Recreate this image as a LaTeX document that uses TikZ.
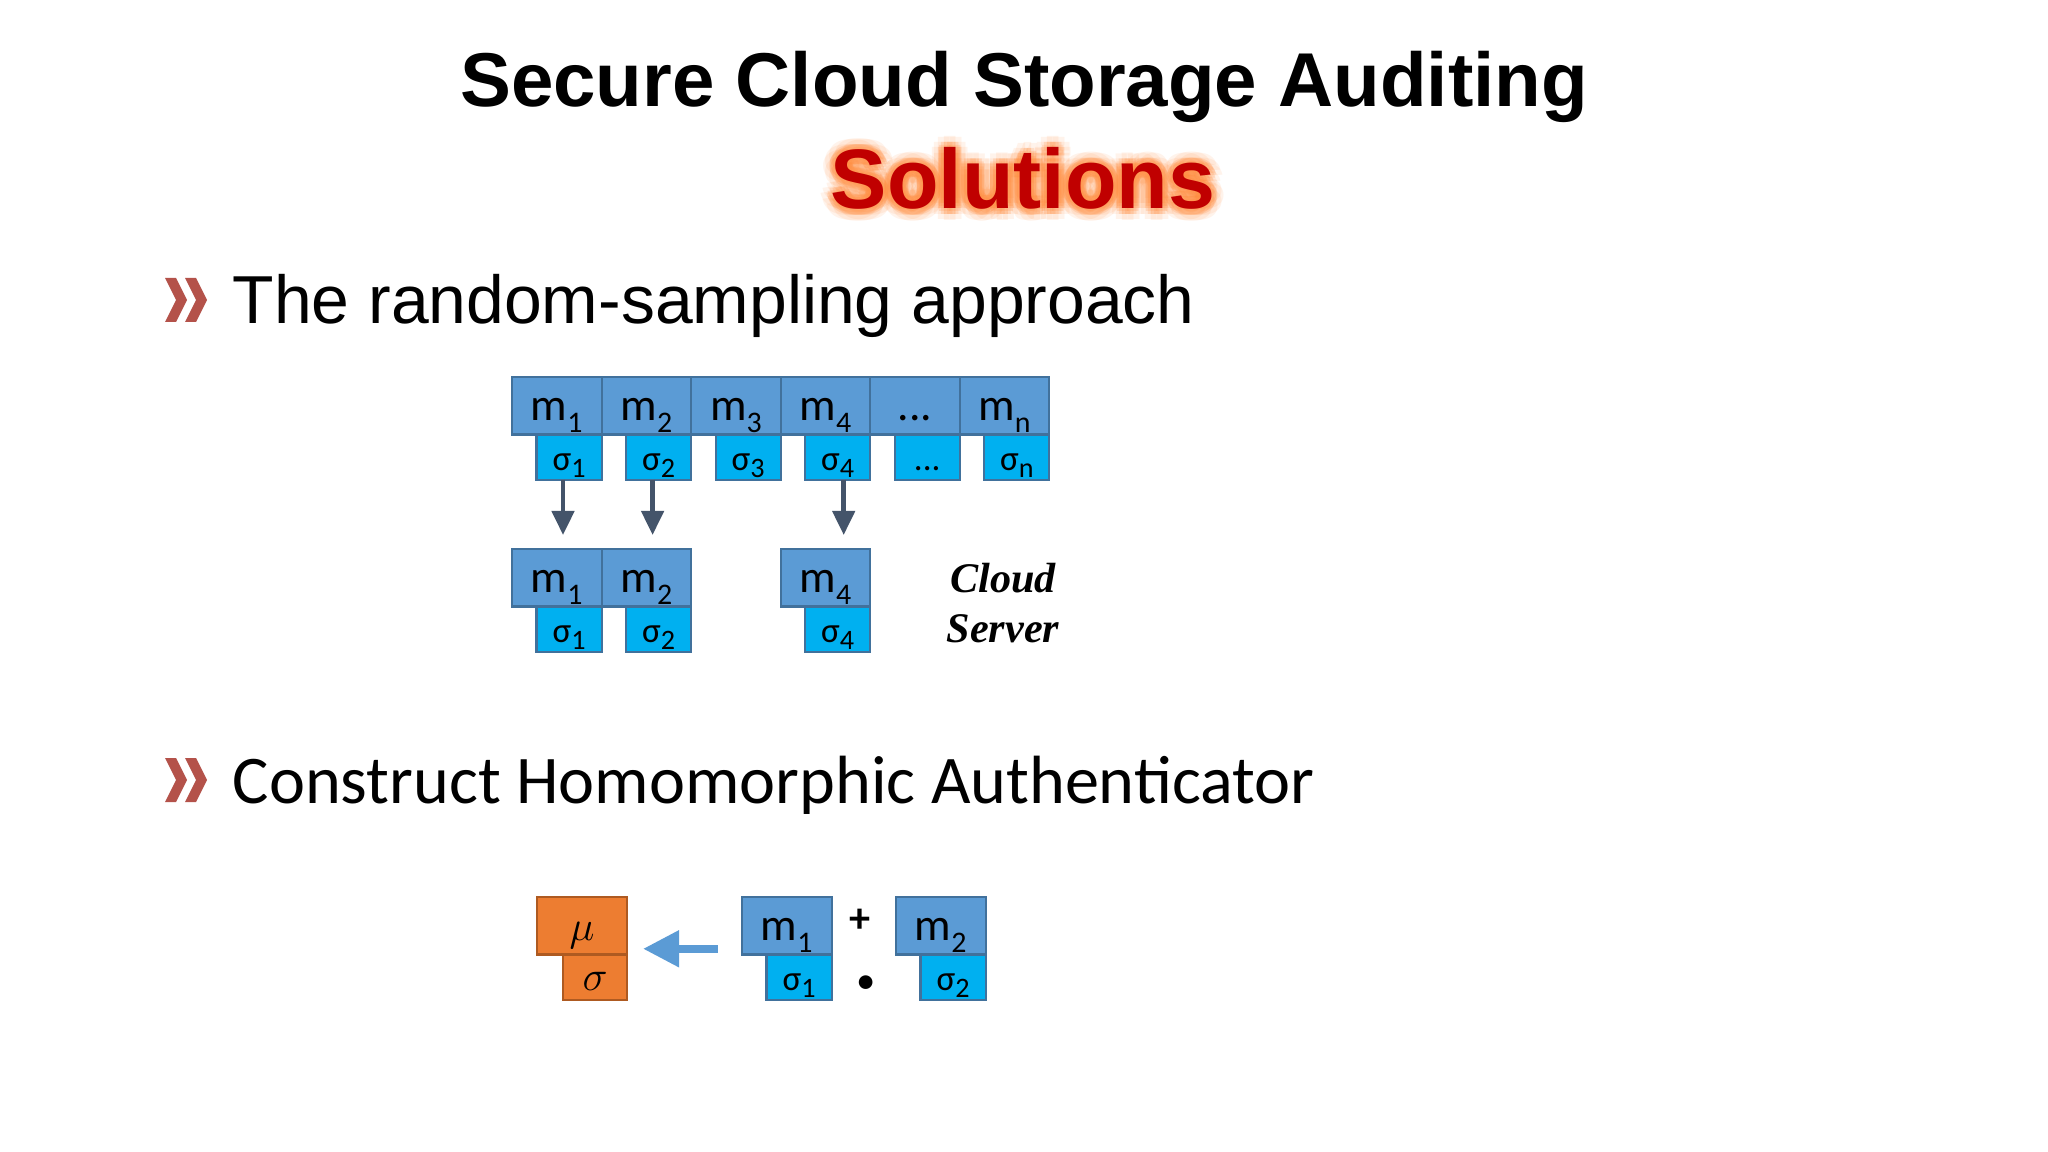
\documentclass[tikz,border=0pt]{standalone}
\usepackage{fontspec}
\setmainfont{Carlito}
\newfontfamily\headfont{Liberation Sans}
\newfontfamily\serverfont{Liberation Serif}
\usepackage{xcolor}
\definecolor{blockblue}{RGB}{91,155,213}
\definecolor{tagblue}{RGB}{0,176,240}
\definecolor{edgeblue}{RGB}{65,113,156}
\definecolor{aggorange}{RGB}{237,125,49}
\definecolor{edgeorange}{RGB}{174,90,33}
\definecolor{slate}{RGB}{68,84,106}
\definecolor{crimson}{RGB}{192,0,0}
\definecolor{glow}{RGB}{255,140,60}
\definecolor{brick}{RGB}{180,82,74}
\usepackage{tikz}
\usetikzlibrary{arrows.meta,positioning,calc}

%% block labels with lowered index
\newcommand{\blkm}[1]{m\raisebox{-3.4pt}{\fontsize{8.5}{9}\selectfont #1}}
\newcommand{\blks}[1]{σ\raisebox{-2.2pt}{\fontsize{8}{9}\selectfont #1}}

\tikzset{
  %% data blocks m_i and their tags sigma_i
  mblk/.style={draw=edgeblue, line width=0.6pt, fill=blockblue,
    minimum width=0.895cm, minimum height=0.575cm, inner sep=0pt, outer sep=0pt,
    font=\fontsize{13}{15}\selectfont, text height=9.8pt, text depth=1.4pt},
  sblk/.style={draw=edgeblue, line width=0.6pt, fill=tagblue,
    minimum width=0.65cm, minimum height=0.45cm, inner sep=0pt, outer sep=0pt,
    font=\fontsize{10}{12}\selectfont, text height=8.4pt, text depth=1pt,
    anchor=north east},
  %% aggregated block
  oblk/.style={mblk, fill=aggorange, draw=edgeorange, minimum width=0.9cm},
  otag/.style={sblk, fill=aggorange, draw=edgeorange, minimum width=0.64cm,
    font=\fontsize{12}{14}\selectfont},
  %% connectors
  pick/.style={draw=slate, line width=0.045cm,
    -{Triangle[width=0.22cm,length=0.24cm]}, shorten >=0.14cm},
  merge/.style={draw=blockblue, line width=0.08cm,
    -{Triangle[width=0.35cm,length=0.36cm]}},
  %% text
  headline/.style={font=\headfont\bfseries\fontsize{21.7}{26}\selectfont, anchor=base},
  solution/.style={font=\headfont\bfseries\fontsize{24}{28}\selectfont, anchor=base},
  point/.style={anchor=base west, inner sep=0pt},
  server/.style={font=\serverfont\bfseries\itshape\fontsize{12}{14.4}\selectfont,
    align=center},
}

\begin{document}
\begin{tikzpicture}[x=0.01cm, y=-0.01cm]
\fill[white] (0,0) rectangle (2048,1152);
\useasboundingbox (0,0) rectangle (2048,1152);

%% title
\node[headline] (title) at (1024,107) {Secure Cloud Storage Auditing};
\coordinate (solpos) at (1023,209);
\foreach \a in {0,30,...,330}{
  \node[solution, text=glow, text opacity=0.10] (glowa-\a) at ($(solpos)+(\a:3.4pt)$) {Solutions};
  \node[solution, text=glow, text opacity=0.20] (glowb-\a) at ($(solpos)+(\a:1.7pt)$) {Solutions};
}
\node[solution, text=crimson] (sol) at (solpos) {Solutions};

%% bullets
\foreach \yc in {300,780}
  \foreach \dx in {0,20}
    \fill[brick] ($(165+\dx,\yc)+(0,-22)$) -- ++(11,0) -- ++(11,22) -- ++(-11,22)
      -- ++(-11,0) -- ++(11,-22) -- cycle;
\node[point, font=\headfont\fontsize{19.3}{23}\selectfont] (sampling) at (232,324)
  {The random-sampling approach};
\node[point, font=\fontsize{19.4}{23}\selectfont] (construct) at (232,803)
  {Construct Homomorphic Authenticator};

%% all blocks
\node[mblk, anchor=north west] (m1) at (512,377) {\blkm{1}};
\node[mblk, right=0pt of m1] (m2) {\blkm{2}};
\node[mblk, right=0pt of m2] (m3) {\blkm{3}};
\node[mblk, right=0pt of m3] (m4) {\blkm{4}};
\node[mblk, right=0pt of m4] (mdots) {...};
\node[mblk, right=0pt of mdots] (mn) {\blkm{n}};
\node[sblk] (s1) at (m1.south east) {\blks{1}};
\node[sblk] (s2) at (m2.south east) {\blks{2}};
\node[sblk] (s3) at (m3.south east) {\blks{3}};
\node[sblk] (s4) at (m4.south east) {\blks{4}};
\node[sblk] (sdots) at (mdots.south east) {...};
\node[sblk] (sn) at (mn.south east) {\blks{n}};

%% sampled blocks
\node[mblk, anchor=north west] (m1b) at (512,549) {\blkm{1}};
\node[mblk, right=0pt of m1b] (m2b) {\blkm{2}};
\node[mblk, anchor=north west] (m4b) at (m4.south west |- m1b.north) {\blkm{4}};
\node[sblk] (s1b) at (m1b.south east) {\blks{1}};
\node[sblk] (s2b) at (m2b.south east) {\blks{2}};
\node[sblk] (s4b) at (m4b.south east) {\blks{4}};
\draw[pick] ([xshift=-0.06cm]s1.south) -- ([xshift=-0.06cm]s1.south |- m1b.north);
\draw[pick] ([xshift=-0.06cm]s2.south) -- ([xshift=-0.06cm]s2.south |- m2b.north);
\draw[pick] ([xshift=0.06cm]s4.south) -- ([xshift=0.06cm]s4.south |- m4b.north);
\node[server] (cloud) at (1003,603) {Cloud\\Server};

%% authenticator
\node[oblk, anchor=north west] (mu) at (537,897) {$\mu$};
\node[otag] (sig) at (mu.south east) {$\sigma$};
\node[mblk, anchor=north west] (m1c) at (742,897) {\blkm{1}};
\node[sblk] (s1c) at (m1c.south east) {\blks{1}};
\node[mblk, anchor=north west] (m2c) at (896,897) {\blkm{2}};
\node[sblk] (s2c) at (m2c.south east) {\blks{2}};
\node[font=\bfseries\fontsize{12}{14}\selectfont] (plus) at (860,921) {+};
\node[font=\fontsize{11}{13}\selectfont] (dot) at (866,985) {\textbullet};
\draw[merge, shorten <=0.24cm, shorten >=0.16cm]
  ([yshift=-0.23cm]m1c.west) -- ([yshift=-0.23cm]mu.east);
\end{tikzpicture}
\end{document}
